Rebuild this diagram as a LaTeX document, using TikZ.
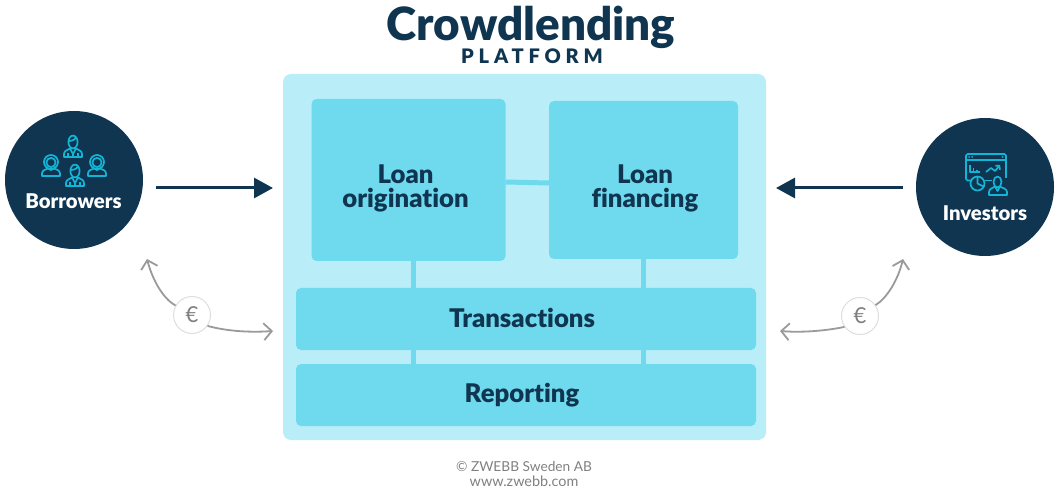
\documentclass[tikz,border=0pt]{standalone}
\usepackage{fontspec}
\setmainfont{Lato}
\newfontfamily\heavy[Ligatures=NoCommon]{Lato Black}
\usetikzlibrary{arrows.meta}
\definecolor{navy}{HTML}{0F3550}
\definecolor{panel}{HTML}{B9EEF8}
\definecolor{block}{HTML}{6FDAED}
\definecolor{icon}{HTML}{13B5D6}
\definecolor{graytxt}{HTML}{808080}
\definecolor{grayline}{HTML}{9A9A9A}
\tikzset{
  x=1pt,y=-1pt,
  blockbox/.style={fill=block,rounded corners=5pt,inner sep=0pt},
  blocktext/.style={inner sep=0pt,align=center,text=navy,font=\fontsize{25.7}{24}\selectfont\heavy},
  link/.style={draw=block,line width=5pt},
  mainarrow/.style={draw=navy,line width=3pt,-{Triangle[length=19pt,width=20pt]}},
  moneyarrow/.style={draw=grayline,line width=1.8pt,-{Straight Barb[length=8pt,width=17pt,line width=1.8pt]}},
  actor/.style={circle,fill=navy,minimum size=138pt,inner sep=0pt},
  actorlabel/.style={text=white,inner sep=0pt,font=\fontsize{20.3}{20}\selectfont\heavy},
  euro/.style={circle,fill=white,draw=black!13,line width=1pt,minimum size=37pt,inner sep=0pt,text=graytxt,font=\fontsize{22}{22}\selectfont},
  iconline/.style={draw=icon,line width=1.7pt,line join=round},
  woman/.pic={
    \draw[iconline] (0,-6) ellipse[x radius=4.6,y radius=6.4];
    \draw[iconline] (-4.2,-7) .. controls (0,-7) and (3,-9) .. (2.6,-11.5);
    \draw[iconline] (-9,9) -- (-9,6) .. controls (-9,2.5) and (-5,2) .. (-3,0.5) -- (0,6) -- (3,0.5) .. controls (5,2) and (9,2.5) .. (9,6) -- (9,9) -- cycle;
    \draw[iconline] (0,6) -- (0,9) (-5,5) -- (-5,9) (5,5) -- (5,9);
  },
  man/.pic={
    \draw[iconline] (0,-6) circle[radius=7];
    \draw[iconline] (0,-5.5) circle[radius=4.6];
    \draw[iconline] (-9,8) -- (-9,5.5) .. controls (-9,2) and (-5,1.5) .. (-3,0.5) .. controls (-1,2.5) and (1,2.5) .. (3,0.5) .. controls (5,1.5) and (9,2) .. (9,5.5) -- (9,8) -- cycle;
  }
}
\begin{document}
\begin{tikzpicture}
\useasboundingbox (0,0) rectangle (1060,494);
\node[inner sep=0pt,text=navy,font=\fontsize{45.8}{46}\selectfont\heavy] (title) at (531,27) {Crowdlending};
\node[inner sep=0pt,text=navy,font=\fontsize{20}{20}\selectfont\heavy] (sub) at (532,56) {\addfontfeature{LetterSpace=24}PLATFORM};
\node[fill=panel,rounded corners=8pt,minimum width=483pt,minimum height=366pt,inner sep=0pt] (panel) at (524.5,257) {};
\coordinate (xa) at (413.5,0);
\coordinate (xb) at (643.5,0);
\node[blockbox,minimum width=194pt,minimum height=162pt] (lo) at (408.5,180) {};
\node[blockbox,minimum width=189pt,minimum height=158pt] (lf) at (643.5,180) {};
\node[blockbox,minimum width=460pt,minimum height=62pt] (tr) at (526,319) {};
\node[blockbox,minimum width=460pt,minimum height=62pt] (rp) at (526,395) {};
\node[blocktext] (lot) at (405.5,188.5) {Loan\\origination};
\node[blocktext] (lft) at (645,188.5) {Loan\\financing};
\node[blocktext] (trt) at (522,318) {Transactions};
\node[blocktext] (rpt) at (522,395) {Reporting};
\draw[link] (lo.east |- 0,182) -- (lf.west |- 0,183);
\draw[link] (lo.south -| xa) -- (tr.north -| xa);
\draw[link] (lf.south -| xb) -- (tr.north -| xb);
\draw[link] (tr.south -| xa) -- (rp.north -| xa);
\draw[link] (tr.south -| xb) -- (rp.north -| xb);
\node[actor] (bor) at (74,180) {};
\node[actor] (inv) at (985,187) {};
\node[actorlabel] (bort) at (73.5,201) {Borrowers};
\node[actorlabel] (invt) at (985,213) {Investors};
\pic at (73,148) {woman};
\pic at (75,177) {woman};
\pic at (51,168) {man};
\pic at (97,168) {man};
% investors icon
\draw[iconline,rounded corners=1.5pt] (972,180.5) -- (966,180.5) -- (966,154) -- (1006,154) -- (1006,178);
\draw[iconline] (966,160) -- (1006,160) (985,180.5) -- (992,180.5);
\fill[icon] (969,157) circle[radius=1] (972,157) circle[radius=1] (1002.5,157) circle[radius=1];
\draw[iconline] (970,165.5) -- (970,172) -- (980,172) (973.5,168) -- (973.5,172) (977,170) -- (977,172);
\draw[iconline,-{Straight Barb[length=2.5pt,width=6pt]}] (986,172) -- (991,168) -- (995,171) -- (1000,165);
\draw[iconline] (977.5,183.5) circle[radius=7];
\draw[iconline] (977.5,176.5) -- (977.5,183.5) -- (983.5,186.5);
\draw[iconline] (997.5,182) ellipse[x radius=4,y radius=5.5];
\draw[iconline] (989,195) -- (989,192) .. controls (989,188.5) and (993,188) .. (995,186.5) -- (997.5,191) -- (1000,186.5) .. controls (1002,188) and (1007,188.5) .. (1007,192) -- (1007,195) -- cycle;
\coordinate (bo) at (156,188);
\coordinate (bi) at (273,188);
\coordinate (io) at (903,188);
\coordinate (ii) at (776,188);
\draw[mainarrow] (bo) -- (bi);
\draw[mainarrow] (io) -- (ii);
\node[euro] (eb) at (192,315) {€};
\node[euro] (ei) at (860,316) {€};
\coordinate (bu) at (147,259);
\coordinate (br) at (273,331);
\coordinate (iu) at (903,259);
\coordinate (il) at (780,331);
\draw[moneyarrow] (eb.150) .. controls (162,298) and (152,278) .. (bu);
\draw[moneyarrow] (eb.-35) .. controls (222,330) and (245,333) .. (br);
\draw[moneyarrow] (ei.35) .. controls (887,298) and (898,280) .. (iu);
\draw[moneyarrow] (ei.-145) .. controls (830,330) and (805,333) .. (il);
\node[inner sep=0pt,text=graytxt,font=\fontsize{13.7}{14}\selectfont] (c1) at (524,466.5) {© ZWEBB Sweden AB};
\node[inner sep=0pt,text=graytxt,font=\fontsize{14.4}{14}\selectfont] (c2) at (524,481.5) {www.zwebb.com};
\end{tikzpicture}
\end{document}
